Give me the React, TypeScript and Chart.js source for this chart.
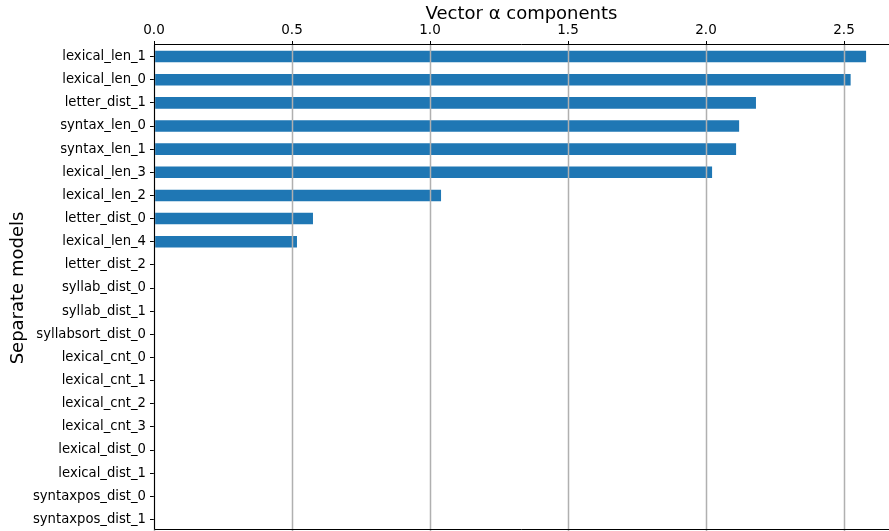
import React, { useEffect, useRef } from "react";
import { Chart, registerables } from "chart.js";

Chart.register(...registerables);

// Models, ordered top to bottom
const models = [
  "lexical_len_1",
  "lexical_len_0",
  "letter_dist_1",
  "syntax_len_0",
  "syntax_len_1",
  "lexical_len_3",
  "lexical_len_2",
  "letter_dist_0",
  "lexical_len_4",
  "letter_dist_2",
  "syllab_dist_0",
  "syllab_dist_1",
  "syllabsort_dist_0",
  "lexical_cnt_0",
  "lexical_cnt_1",
  "lexical_cnt_2",
  "lexical_cnt_3",
  "lexical_dist_0",
  "lexical_dist_1",
  "syntaxpos_dist_0",
  "syntaxpos_dist_1",
];

// Alpha vector component per model
const alphaValues = [
  2.58, 2.524, 2.181, 2.12, 2.109, 2.022, 1.04, 0.576, 0.518,
  0, 0, 0, 0, 0, 0, 0, 0, 0, 0, 0, 0,
];

const xMin = 0;
const xMax = 2.663;
const xStep = 0.5;

const FONT = "'DejaVu Sans', 'Liberation Sans', sans-serif";

// Draws vertical grid lines over the bars, then the axes frame on top of them
const overlayGrid = {
  id: "overlayGrid",
  afterDatasetsDraw(chart: any) {
    const { ctx, chartArea, scales } = chart;
    const xs = scales.x;
    ctx.save();
    ctx.strokeStyle = "#b0b0b0";
    ctx.lineWidth = 1.5;
    for (const t of xs.ticks) {
      const px = Math.round(xs.getPixelForValue(t.value)) + 0.5;
      ctx.beginPath();
      ctx.moveTo(px, chartArea.top);
      ctx.lineTo(px, chartArea.bottom);
      ctx.stroke();
    }
    ctx.strokeStyle = "#000";
    ctx.lineWidth = 1;
    const l = Math.round(chartArea.left) + 0.5;
    const t = Math.round(chartArea.top) - 0.5;
    const b = Math.round(chartArea.bottom) - 1.5;
    ctx.beginPath();
    ctx.moveTo(chartArea.right, t);
    ctx.lineTo(l, t);
    ctx.lineTo(l, b);
    ctx.lineTo(chartArea.right, b);
    ctx.stroke();
    ctx.restore();
  },
};

export default function App() {
  const canvasRef = useRef<HTMLCanvasElement | null>(null);

  useEffect(() => {
    if (!canvasRef.current) return;
    Chart.defaults.color = "#000";
    Chart.defaults.font.family = FONT;
    const chart = new Chart(canvasRef.current, {
      type: "bar",
      data: {
        labels: models,
        datasets: [
          {
            data: alphaValues,
            backgroundColor: "#1f77b4",
            borderWidth: 0,
            barPercentage: 0.5,
            categoryPercentage: 1,
          },
        ],
      },
      options: {
        indexAxis: "y",
        animation: false,
        responsive: false,
        maintainAspectRatio: false,
        layout: { padding: { top: 0, right: 0, bottom: 0, left: 0 } },
        plugins: {
          legend: { display: false },
          tooltip: { enabled: false },
        },
        scales: {
          x: {
            position: "top",
            min: xMin,
            max: xMax,
            border: { display: false },
            grid: {
              drawOnChartArea: false,
              drawTicks: true,
              tickLength: 4,
              color: "#000",
              lineWidth: 1,
            },
            ticks: {
              stepSize: xStep,
              includeBounds: false,
              font: { size: 13.5, family: FONT },
              color: "#000",
              padding: 2,
              maxRotation: 0,
              callback: (v: any) => Number(v).toFixed(1),
            },
            title: {
              display: true,
              text: "Vector α components",
              font: { size: 18, family: FONT },
              color: "#000",
              padding: { top: 4, bottom: 0 },
            },
            afterFit: (scale: any) => {
              scale.height = 45;
            },
          },
          y: {
            position: "left",
            border: { display: false },
            grid: {
              drawOnChartArea: false,
              drawTicks: true,
              tickLength: 4,
              color: "#000",
              lineWidth: 1,
              offset: false,
            },
            ticks: {
              font: { size: 13.2, family: FONT },
              color: "#000",
              padding: 4,
              autoSkip: false,
            },
            title: {
              display: true,
              text: "Separate models",
              font: { size: 18, family: FONT },
              color: "#000",
              padding: { top: 8, bottom: 0 },
            },
            afterFit: (scale: any) => {
              scale.width = 154;
              scale.paddingTop = 0;
              scale.paddingBottom = 0;
            },
          },
        },
      },
      plugins: [overlayGrid],
    });
    return () => chart.destroy();
  }, []);

  return (
    <div
      style={{
        position: "fixed",
        left: 0,
        top: 0,
        width: 889,
        height: 531,
        background: "#fff",
      }}
    >
      <canvas ref={canvasRef} width={889} height={531} />
    </div>
  );
}
